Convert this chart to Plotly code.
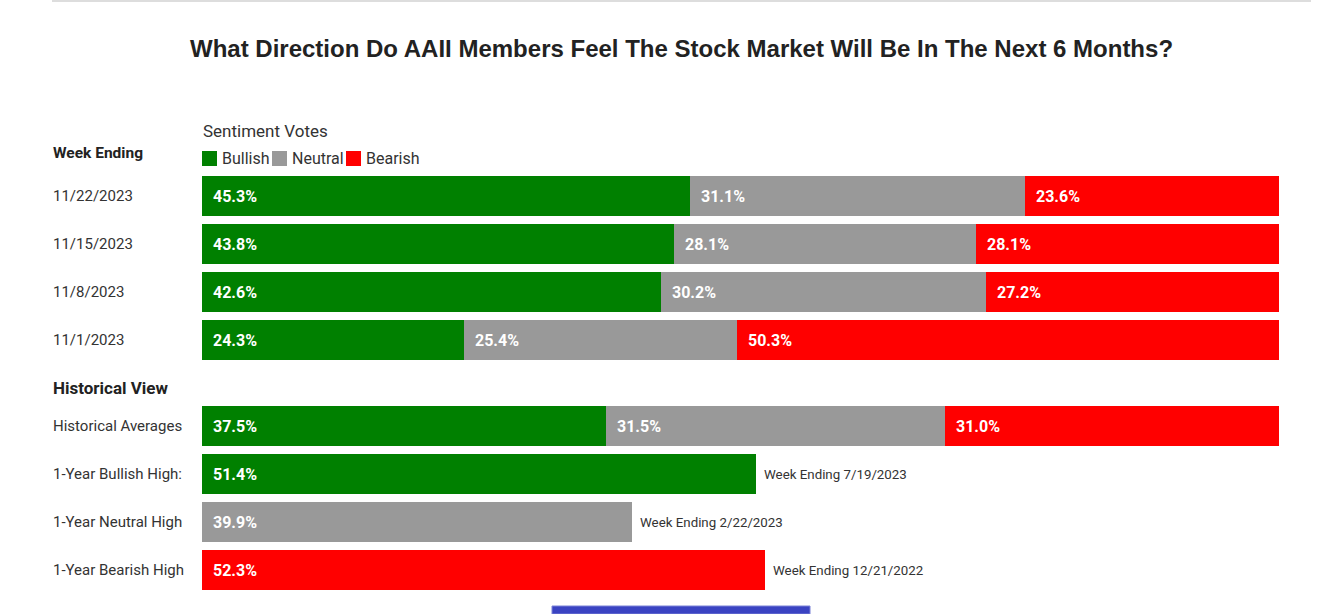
import plotly.graph_objects as go

# ---------------- data ----------------
week_labels = ["11/22/2023", "11/15/2023", "11/8/2023", "11/1/2023"]
week_bullish = [45.3, 43.8, 42.6, 24.3]
week_neutral = [31.1, 28.1, 30.2, 25.4]
week_bearish = [23.6, 28.1, 27.2, 50.3]

hist_labels = ["Historical Averages", "1-Year Bullish High:", "1-Year Neutral High", "1-Year Bearish High"]
hist_bullish = [37.5, 51.4, None, None]
hist_neutral = [31.5, None, 39.9, None]
hist_bearish = [31.0, None, None, 52.3]
hist_notes = [None, "Week Ending 7/19/2023", "Week Ending 2/22/2023", "Week Ending 12/21/2022"]

series_names = ["Bullish", "Neutral", "Bearish"]
series_colors = ["#008000", "#999999", "#ff0000"]

title_text = "What Direction Do AAII Members Feel The Stock Market Will Be In The Next 6 Months?"

# ---------------- layout helpers ----------------
W, H = 1332, 614
L, R = 202, 1332 - 1279
PW = W - L - R


def px_x(px):
    return (px - L) / PW


def px_y(py):
    return (H - py) / H


LABEL_FONT = "Roboto, Arial, sans-serif"
TXT = "#333333"

fig = go.Figure()

week_series = [week_bullish, week_neutral, week_bearish]
hist_series = [hist_bullish, hist_neutral, hist_bearish]

for name, color, wv, hv in zip(series_names, series_colors, week_series, hist_series):
    fig.add_trace(go.Bar(
        name=name, y=week_labels, x=wv, orientation="h",
        marker=dict(color=color, line=dict(width=0)),
        xaxis="x", yaxis="y", showlegend=False, hoverinfo="x+y+name",
    ))
    fig.add_trace(go.Bar(
        name=name, y=hist_labels, x=hv, orientation="h",
        marker=dict(color=color, line=dict(width=0)),
        xaxis="x", yaxis="y2", showlegend=False, hoverinfo="x+y+name",
    ))

annotations = []
value_font = dict(family="Roboto, Arial, sans-serif", size=16, color="white", weight=700)


def add_value_labels(labels, series, yref):
    for i, cat in enumerate(labels):
        base = 0.0
        for vals in series:
            v = vals[i]
            if v is None:
                continue
            annotations.append(dict(
                x=base, y=cat, xref="x", yref=yref, text=f"{v:.1f}%",
                showarrow=False, xanchor="left", yanchor="middle", xshift=9,
                font=value_font,
            ))
            base += v


add_value_labels(week_labels, week_series, "y")
add_value_labels(hist_labels, hist_series, "y2")

# category labels on the left
for cat in week_labels:
    annotations.append(dict(x=px_x(51), y=cat, xref="paper", yref="y", text=cat,
                            showarrow=False, xanchor="left", yanchor="middle",
                            font=dict(family=LABEL_FONT, size=15, color=TXT)))
for cat in hist_labels:
    annotations.append(dict(x=px_x(51), y=cat, xref="paper", yref="y2", text=cat,
                            showarrow=False, xanchor="left", yanchor="middle",
                            font=dict(family=LABEL_FONT, size=15, color=TXT)))

# notes next to the high bars
for i, note in enumerate(hist_notes):
    if note is None:
        continue
    end = sum(v for v in (hist_bullish[i], hist_neutral[i], hist_bearish[i]) if v is not None)
    annotations.append(dict(x=end, y=hist_labels[i], xref="x", yref="y2", text=note,
                            showarrow=False, xanchor="left", yanchor="middle", xshift=6,
                            font=dict(family=LABEL_FONT, size=13.3, color=TXT)))

# section headers
annotations.append(dict(x=px_x(51), y=px_y(153), xref="paper", yref="paper", text="Week Ending",
                        showarrow=False, xanchor="left", yanchor="middle",
                        font=dict(family=LABEL_FONT, size=15.5, color="#222222", weight=700)))
annotations.append(dict(x=px_x(51), y=px_y(388), xref="paper", yref="paper", text="Historical View",
                        showarrow=False, xanchor="left", yanchor="middle",
                        font=dict(family=LABEL_FONT, size=17, color="#222222", weight=700)))

# title
annotations.append(dict(x=px_x(681.5), y=px_y(48), xref="paper", yref="paper", text=title_text,
                        showarrow=False, xanchor="center", yanchor="middle",
                        font=dict(family="Liberation Sans, Arial, sans-serif", size=24,
                                  color="#222222", weight=700)))

# legend (custom)
annotations.append(dict(x=px_x(201), y=px_y(131), xref="paper", yref="paper", text="Sentiment Votes",
                        showarrow=False, xanchor="left", yanchor="middle",
                        font=dict(family=LABEL_FONT, size=17, color=TXT)))
shapes = []
legend_sq_x = [202, 272, 346]
for name, color, sx in zip(series_names, series_colors, legend_sq_x):
    shapes.append(dict(type="rect", xref="paper", yref="paper",
                       x0=px_x(sx), x1=px_x(sx + 15), y0=px_y(166), y1=px_y(151),
                       fillcolor=color, line=dict(width=0)))
    annotations.append(dict(x=px_x(sx + 18), y=px_y(158.5), xref="paper", yref="paper", text=name,
                            showarrow=False, xanchor="left", yanchor="middle",
                            font=dict(family=LABEL_FONT, size=16, color=TXT)))

# decorative page elements
shapes.append(dict(type="rect", xref="paper", yref="paper",
                   x0=px_x(52), x1=px_x(1311), y0=px_y(2), y1=px_y(0),
                   fillcolor="#dddddd", line=dict(width=0)))
shapes.append(dict(type="rect", xref="paper", yref="paper",
                   x0=px_x(552), x1=px_x(810), y0=px_y(614), y1=px_y(606),
                   fillcolor="#3a43c2", line=dict(width=1, color="#7a82d6")))

fig.update_layout(
    width=W, height=H,
    margin=dict(l=L, r=R, t=0, b=0),
    paper_bgcolor="white", plot_bgcolor="white",
    barmode="stack", bargap=1 / 6,
    showlegend=False,
    xaxis=dict(range=[0, 100], visible=False, fixedrange=True, anchor="y2", domain=[0, 1]),
    yaxis=dict(domain=[px_y(364), px_y(172)], autorange="reversed", visible=False,
               type="category", fixedrange=True),
    yaxis2=dict(domain=[px_y(594), px_y(402)], autorange="reversed", visible=False,
                type="category", fixedrange=True, anchor="x"),
    annotations=annotations,
    shapes=shapes,
    font=dict(family=LABEL_FONT),
)

fig.write_html(
    "out.html",
    config={"displayModeBar": False},
    post_script="document.body.style.margin='0';document.body.style.overflow='hidden';",
)
